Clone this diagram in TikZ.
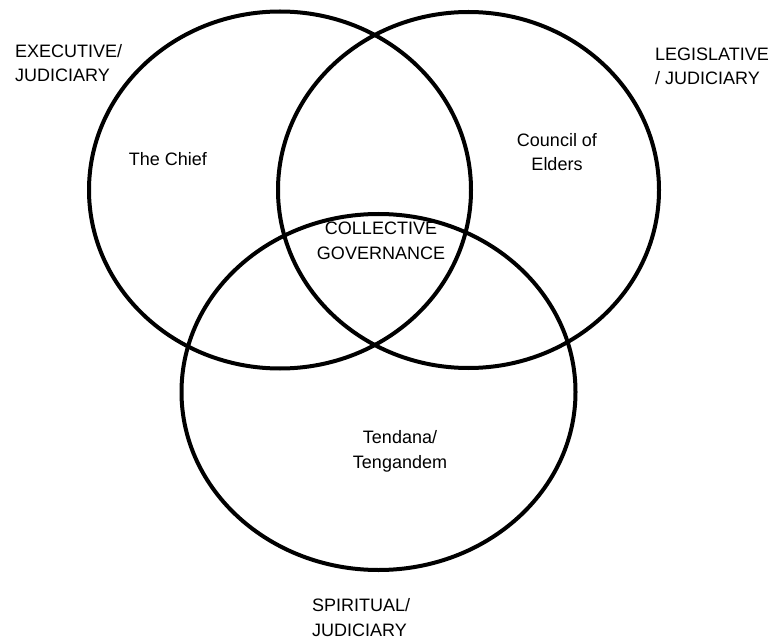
\documentclass[tikz,border=0pt]{standalone}
\usepackage{fontspec}
\setmainfont{Liberation Sans}
\tikzset{
  venn/.style={draw=black, line width=4pt},
  lbl/.style={inner sep=0pt, font=\fontsize{18}{24.5}\selectfont},
}
\begin{document}
\begin{tikzpicture}[x=1pt,y=-1pt]
\useasboundingbox (0,0) rectangle (779,639);
\fill[white] (0,0) rectangle (779,639);
\draw[venn] (280,190) ellipse [x radius=191, y radius=178.5];
\draw[venn] (468.5,190) ellipse [x radius=190.5, y radius=178];
\draw[venn] (378.5,392) ellipse [x radius=197, y radius=178];
% for two-line nodes the base anchor is the baseline of the last line
\node[lbl, anchor=base west, align=left] (exec) at (15,82) {EXECUTIVE/\\JUDICIARY};
\node[lbl, anchor=base west, align=left] (legis) at (655,85) {LEGISLATIVE\\/ JUDICIARY};
\node[lbl, anchor=base west, align=left] (spirit) at (312,636) {SPIRITUAL/\\JUDICIARY};
\node[lbl, anchor=base] (chief) at (168,166) {The Chief};
\node[lbl, anchor=base, align=center] (council) at (557,171) {Council of\\Elders};
\node[lbl, anchor=base, align=center] (coll) at (381,259) {COLLECTIVE\\GOVERNANCE};
\node[lbl, anchor=base, align=center] (tend) at (400,468) {Tendana/\\Tengandem};
\end{tikzpicture}
\end{document}
